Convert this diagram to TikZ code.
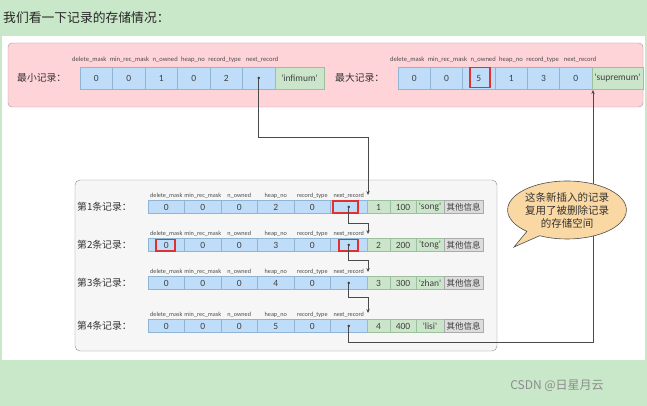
\documentclass[tikz,border=0pt]{standalone}
\usepackage{fontspec}
\setmainfont{Carlito}
\newfontfamily\cjk{Noto Sans CJK SC}
\usetikzlibrary{shapes.callouts,arrows.meta}
\definecolor{bggreen}{HTML}{C9E7C9}
\definecolor{pinkbg}{HTML}{FFD4D8}
\definecolor{cellblue}{HTML}{BFDDF8}
\definecolor{cellblueb}{HTML}{8FB4D4}
\definecolor{cellgreen}{HTML}{CBE5CB}
\definecolor{cellgreenb}{HTML}{9DBF9D}
\definecolor{cellgray}{HTML}{DCDCDC}
\definecolor{cellgrayb}{HTML}{AAAAAA}
\definecolor{boxgray}{HTML}{F6F6F6}
\definecolor{linec}{HTML}{4A4A4A}
\definecolor{bubblec}{HTML}{FAD8A4}
\definecolor{redbox}{HTML}{E03030}
\newcommand\hgap{\hspace{2pt}}
\tikzset{
  bluecell/.style={draw=cellblueb, fill=cellblue, inner sep=0, font=\fontsize{9.5}{10}\selectfont, text=black!75},
  greencell/.style={draw=cellgreenb, fill=cellgreen, inner sep=0, font=\fontsize{9.5}{10}\selectfont, text=black!75},
  graycell/.style={draw=cellgrayb, fill=cellgray, inner sep=0, font=\cjk\fontsize{8.5}{10}\selectfont, text=black!75},
  hdr/.style={inner sep=0, font=\fontsize{6.2}{7}\selectfont, text=black!70},
  tophdr/.style={inner sep=0, anchor=west, font=\fontsize{6.6}{7}\selectfont, text=black!70},
  cjklabel/.style={inner sep=0, anchor=west, font=\cjk\fontsize{9.8}{11}\selectfont, text=black!80},
  conn/.style={draw=linec, line width=0.6pt, -{Stealth[length=4pt,width=3.4pt]}},
  redmark/.style={draw=redbox, line width=1.1pt},
  dotc/.style={fill=black!80}
}
\begin{document}
\begin{tikzpicture}[x=1pt,y=-1pt]
\useasboundingbox (0,0) rectangle (647,406);
\fill[bggreen] (0,0) rectangle (647,406);
\fill[white] (2,36) rectangle (645,360);
\node[inner sep=0, anchor=west, font=\cjk\fontsize{12.8}{14}\selectfont, text=black!85] (title) at (3,18) {我们看一下记录的存储情况：};

% pink area
\draw[fill=pinkbg, draw=black!40, rounded corners=4pt] (8,43) rectangle (643,107);

% top-left row
\node[cjklabel] (minlab) at (17,78) {最小记录：};
\foreach \v [count=\i from 0] in {0,0,1,0,2,{}}
  \node[bluecell, minimum width=32.5, minimum height=22] (L\i) at ({96.25+32.5*\i},78) {\v};
\node[greencell, minimum width=49, minimum height=22] (Linf) at (299.5,78) {\textquotesingle infimum\textquotesingle};
\node[tophdr] (hL) at (72,60) {delete\_mask\hgap{} min\_rec\_mask\hgap{} n\_owned\hgap{} heap\_no\hgap{} record\_type\hgap\ \ next\_record};
\fill[dotc] (L5.center) circle (1.3);

% top-right row
\node[cjklabel] (maxlab) at (335,78) {最大记录：};
\foreach \v [count=\i from 0] in {0,0,5,1,3,0}
  \node[bluecell, minimum width=32.33, minimum height=22] (M\i) at ({414.17+32.33*\i},78) {\v};
\node[greencell, minimum width=51, minimum height=22] (Msup) at (617.5,78) {\textquotesingle supremum\textquotesingle};
\node[tophdr] (hM) at (390,60) {delete\_mask\hgap{} min\_rec\_mask\hgap{} n\_owned\hgap{} heap\_no\hgap{} record\_type\hgap\ \ next\_record};
\draw[redmark] (470,67.5) rectangle (490,87.5);

% records box
\draw[fill=boxgray, draw=black!45, rounded corners=5pt] (75,180) rectangle (497,351);

\foreach \r/\yc/\hn/\a/\b/\c in {1/207/2/1/100/song,2/245/3/2/200/tong,3/283/4/3/300/zhan,4/326/5/4/400/lisi}{
  \node[cjklabel] (lab\r) at (77,\yc) {第\r 条记录：};
  \foreach \v [count=\i from 0] in {0,0,0,\hn,0,{}}
    \node[bluecell, minimum width=36.5, minimum height=13] (R\r-\i) at ({166.25+36.5*\i},\yc) {\v};
  \foreach \h [count=\i from 0] in {delete\_mask,min\_rec\_mask,n\_owned,heap\_no,record\_type,next\_record}
    \node[hdr] (hR\r-\i) at ({166.25+36.5*\i},\yc-11.5) {\h};
  \node[greencell, minimum width=23, minimum height=13] (R\r-a) at (378.5,\yc) {\a};
  \node[greencell, minimum width=26, minimum height=13] (R\r-b) at (403,\yc) {\b};
  \node[greencell, minimum width=28, minimum height=13] (R\r-c) at (430,\yc) {\textquotesingle\c\textquotesingle};
  \node[graycell, minimum width=39, minimum height=13] (R\r-d) at (463.5,\yc) {其他信息};
  \fill[dotc] (R\r-5.center) circle (1.3);
}
\draw[redmark] (333,201) rectangle (358,213);
\draw[redmark] (156,239.5) rectangle (175,251);
\draw[redmark] (339,239.5) rectangle (358,251);

% connectors
\coordinate (in1) at (368,195);
\coordinate (in2) at (368,234);
\coordinate (in3) at (368,272);
\coordinate (in4) at (368,313);
\coordinate (supin) at (593,90);
\draw[conn] (L5.center) -- ++(0,59) -| (in1);
\draw[conn] (R1-5.center) -- ++(0,16) -| (in2);
\draw[conn] (R2-5.center) -- ++(0,15) -| (in3);
\draw[conn] (R3-5.center) -- ++(0,14) -| (in4);
\draw[conn] (R4-5.center) -- ++(0,16) -| (supin);

% callout
\node[ellipse callout, draw=black!70, fill=bubblec, line width=0.6pt,
      minimum width=108, minimum height=58, inner sep=0,
      callout absolute pointer={(514,247)},
      align=center, font=\cjk\fontsize{10.5}{13}\selectfont, text=black!80] (bubble) at (567,210)
  {这条新插入的记录\\复用了被删除记录\\的存储空间};

% watermark
\node[inner sep=0, font=\cjk\fontsize{12}{14}\selectfont, text=black!45] (wm) at (557,386) {CSDN @日星月云};
\end{tikzpicture}
\end{document}
